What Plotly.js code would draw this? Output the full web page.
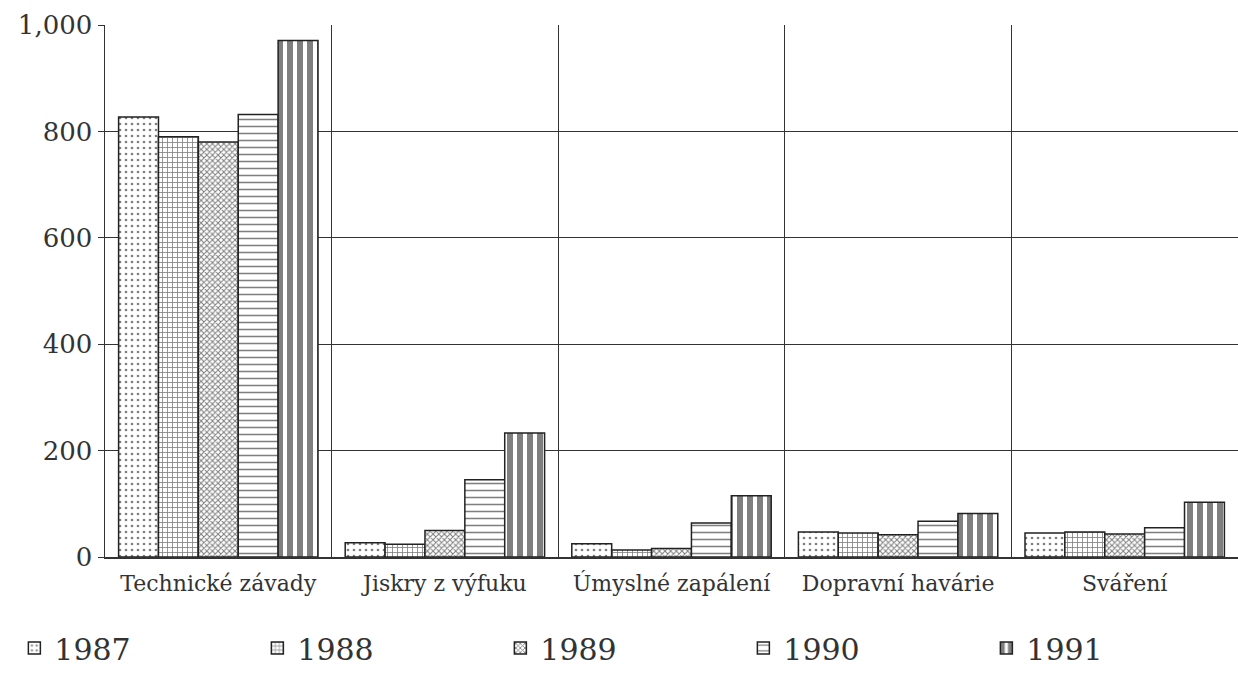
<!DOCTYPE html>
<html>
<head>
<meta charset="utf-8">
<script src="https://cdn.plot.ly/plotly-3.0.1.min.js"></script>
<style>html,body{margin:0;padding:0;background:#fff;}#chart{width:1238px;height:674px;}</style>
</head>
<body>
<div id="chart"></div>
<script>
const categories = ["Technické závady", "Jiskry z výfuku", "Úmyslné zapálení", "Dopravní havárie", "Sváření"];
const years = ["1987", "1988", "1989", "1990", "1991"];
const v1987 = [827, 27, 25, 47, 45];
const v1988 = [790, 24, 13, 45, 47];
const v1989 = [780, 50, 16, 42, 43];
const v1990 = [832, 145, 64, 67, 55];
const v1991 = [971, 233, 115, 82, 103];
const yTicks = [0, 200, 400, 600, 800, 1000];
const yTickText = ["0", "200", "400", "600", "800", "1,000"];

const seriesValues = [v1987, v1988, v1989, v1990, v1991];
const patterns = [
  {shape: ".", size: 6, solidity: 0.16},
  {shape: "+", size: 5, solidity: 0.3},
  {shape: "x", size: 4, solidity: 0.45},
  {shape: "-", size: 7, solidity: 0.22},
  {shape: "|", size: 10, solidity: 0.6}
];

const traces = years.map((y, i) => ({
  type: "bar",
  name: y,
  x: categories,
  y: seriesValues[i],
  marker: {
    color: "#ffffff",
    line: {color: "#222", width: 1.5},
    pattern: Object.assign({fgcolor: "#000", bgcolor: "#ffffff", fillmode: "overlay"}, patterns[i])
  },
  hoverinfo: "x+y+name"
}));

const font = "DejaVu Serif, Liberation Serif, serif";
const layout = {
  width: 1238, height: 674,
  margin: {l: 105, r: 0, t: 25, b: 117},
  paper_bgcolor: "#fff", plot_bgcolor: "#fff",
  barmode: "group", bargap: 0.12, bargroupgap: 0,
  font: {family: font, color: "#333", size: 22},
  showlegend: true,
  legend: {
    orientation: "h", x: -0.08, xanchor: "left", y: -0.22, yanchor: "bottom",
    entrywidth: 198, entrywidthmode: "pixels",
    font: {family: font, size: 30, color: "#333"},
    traceorder: "normal", bgcolor: "rgba(0,0,0,0)"
  },
  xaxis: {
    type: "category", tickson: "boundaries", showgrid: true,
    gridcolor: "#333", gridwidth: 1.3, ticks: "", showline: true,
    linecolor: "#333", linewidth: 1.5, ticklabelstandoff: 6,
    tickfont: {family: font, size: 22, color: "#333"},
    range: [-0.5, 4.5], fixedrange: true, automargin: false
  },
  yaxis: {
    range: [0, 1000], tickvals: yTicks, ticktext: yTickText,
    showgrid: true, gridcolor: "#333", gridwidth: 1.3,
    showline: true, linecolor: "#333", linewidth: 1.5, mirror: false,
    ticks: "outside", ticklen: 6, tickcolor: "#333",
    tickfont: {family: font, size: 26, color: "#333"},
    zeroline: false, fixedrange: true, automargin: false
  }
};

Plotly.newPlot("chart", traces, layout, {displayModeBar: false, staticPlot: true});
</script>
</body>
</html>
